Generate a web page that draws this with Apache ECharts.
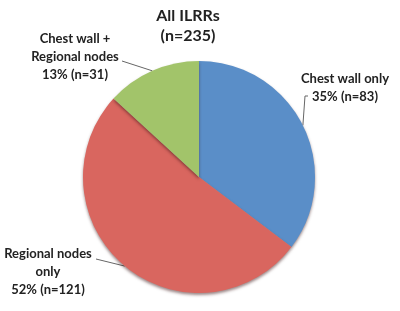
<!DOCTYPE html>
<html><head><meta charset="utf-8">
<script src="https://cdn.jsdelivr.net/npm/echarts@6/dist/echarts.min.js"></script>
<style>html,body{margin:0;padding:0;background:#fff}#c{width:400px;height:311px}</style>
</head><body><div id="c"></div>
<script>
var categories = ['Chest wall only', 'Regional nodes only', 'Chest wall + Regional nodes'];
var values = [83, 121, 31];
var labelTexts = ['Chest wall only\n35% (n=83)', 'Regional nodes\nonly\n52% (n=121)', 'Chest wall +\nRegional nodes\n13% (n=31)'];
var colors = ['#5a8ec8', '#d9665f', '#a2c46a'];
var labelPos = [[345, 88], [48, 272], [75, 57]];
var lineEnds = [[[305, 96], [308, 96]], [[96, 259]], [[122, 61]]];

var chart = echarts.init(document.getElementById('c'));
chart.setOption({
  animation: false,
  title: {
    text: 'All ILRRs\n(n=235)',
    left: 183, top: 1, textAlign: 'center',
    textStyle: {fontFamily: 'Lato', fontWeight: 'bold', fontSize: 16, lineHeight: 20, color: '#222'}
  },
  series: [{
    type: 'pie',
    center: [199, 177],
    radius: 116,
    startAngle: 90,
    clockwise: true,
    data: categories.map(function (c, i) {
      return {name: c, value: values[i], itemStyle: {color: colors[i]}};
    }),
    itemStyle: {shadowBlur: 3, shadowOffsetY: 2, shadowColor: 'rgba(60,20,20,0.5)'},
    label: {
      show: true,
      formatter: function (p) { return labelTexts[p.dataIndex]; },
      fontFamily: 'Lato', fontWeight: 'bold', fontSize: 13, lineHeight: 18,
      color: '#222', align: 'center', overflow: 'none', width: 140
    },
    labelLine: {show: true, lineStyle: {color: '#666', width: 1}},
    labelLayout: function (p) {
      var i = p.dataIndex;
      var pts = [p.labelLinePoints[0]].concat(lineEnds[i]);
      return {x: labelPos[i][0], y: labelPos[i][1], align: 'center', verticalAlign: 'middle', labelLinePoints: pts};
    }
  }]
});
</script></body></html>
